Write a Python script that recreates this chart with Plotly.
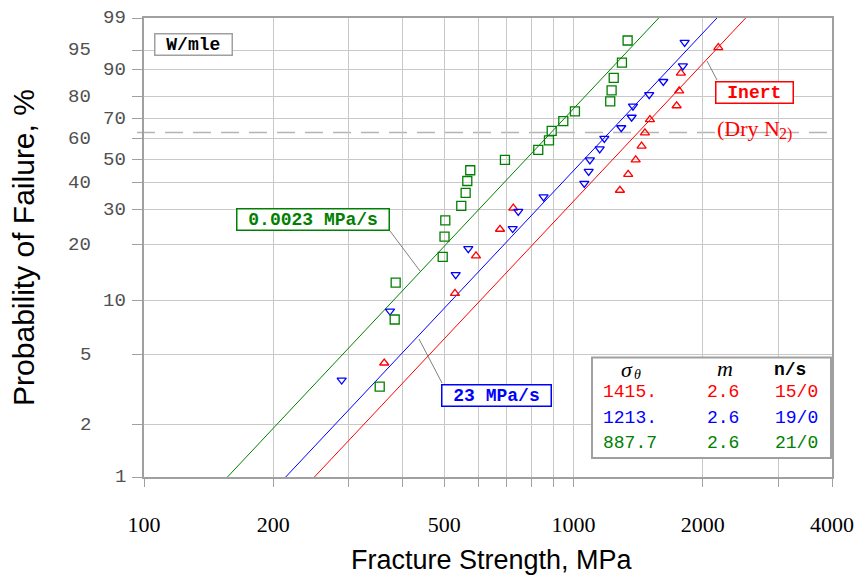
import numpy as np
import plotly.graph_objects as go

# ---------------- data ----------------
red_strength = [362.6, 529.8, 593, 674.5, 724.4, 1283, 1341, 1396, 1441, 1467,
                1507, 1739, 1763, 1779, 2174]
red_prob = [4.5, 11.0, 17.5, 24.0, 30.5, 37.0, 43.5, 50.0, 56.5, 63.0,
            69.5, 76.0, 82.5, 89.0, 95.5]

blue_strength = [288.6, 373.9, 531.8, 569, 722, 744, 852, 1060, 1085, 1092,
                 1151, 1180, 1292, 1366, 1376, 1501, 1619, 1798, 1815]
blue_prob = [3.6, 8.8, 13.9, 19.1, 24.2, 29.4, 34.5, 39.7, 44.8, 50.0,
             55.2, 60.3, 65.5, 70.6, 75.8, 80.9, 86.1, 91.2, 96.4]

green_strength = [353.9, 383.5, 385.5, 496.1, 500.9, 503, 548, 561, 566, 575,
                  692.6, 828, 877, 890, 947, 1008, 1218, 1227, 1241, 1297, 1337]
green_prob = [3.3, 7.9, 12.6, 17.3, 22.0, 26.6, 31.3, 36.0, 40.7, 45.3,
              50.0, 54.7, 59.3, 64.0, 68.7, 73.4, 78.0, 82.7, 87.4, 92.1, 96.7]

series_labels = ["Inert", "23 MPa/s", "0.0023 MPa/s"]
sigma_theta = [1415.0, 1213.0, 887.7]
m_fit = [2.65, 2.65, 2.65]
m_label = ["2.6", "2.6", "2.6"]
n_fail = [15, 19, 21]
n_susp = [0, 0, 0]

y_ticks = [1, 2, 5, 10, 20, 30, 40, 50, 60, 70, 80, 90, 95, 99]
y_ticks_offset = [2, 5, 20, 40, 60, 80, 95]
x_major = [100, 200, 500, 1000, 2000, 4000]
x_minor = [300, 400, 600, 700, 800, 900, 3000]
p_range = [1, 99]

colors = ["#ff0000", "#0000ff", "#008000"]
symbols = ["triangle-up-open", "triangle-down-open", "square-open"]
msizes = [8, 8, 9]


def wy(p):
    """Weibull probability scale."""
    p = np.asarray(p, dtype=float) / 100.0
    return np.log(-np.log(1.0 - p))


# plot area in pixels (for placing decorations)
L, R, T, B = 144, 832, 18, 477


def px(xp):
    return (xp - L) / (R - L)


def py(yp):
    return (B - yp) / (B - T)


fig = go.Figure()

# fitted Weibull lines
for st, m, c in zip(sigma_theta, m_fit, colors):
    yl = wy(p_range)
    xl = st * np.exp(yl / m)
    fig.add_trace(go.Scatter(x=xl, y=yl, mode="lines",
                             line=dict(color=c, width=1), hoverinfo="skip"))

# data points
for xs, ps, c, s, ms, name in zip([red_strength, blue_strength, green_strength],
                                  [red_prob, blue_prob, green_prob],
                                  colors, symbols, msizes, series_labels):
    fig.add_trace(go.Scatter(x=xs, y=wy(ps), mode="markers", name=name,
                             marker=dict(symbol=s, size=ms, color=c,
                                         line=dict(color=c, width=1.3))))

grid = "#c8c8c8"
frame = "#a0a0a0"

fig.update_layout(
    width=859, height=575,
    margin=dict(l=L, r=859 - R, t=T, b=575 - B),
    plot_bgcolor="white", paper_bgcolor="white",
    showlegend=False,
)

fig.update_xaxes(
    type="log", range=[2, np.log10(4000)],
    tickvals=x_major, ticktext=[str(v) for v in x_major],
    ticks="outside", ticklen=8, tickcolor=frame, tickwidth=1,
    showgrid=True, gridcolor=grid, gridwidth=1,
    minor=dict(tickvals=x_minor, ticks="outside", ticklen=8, tickcolor=frame,
               tickwidth=1, showgrid=True, gridcolor=grid, gridwidth=1),
    showline=True, mirror=True, linecolor=frame, linewidth=2,
    zeroline=False, automargin=False,
    tickfont=dict(family="Liberation Serif", size=22, color="black"),
    ticklabelstandoff=19,
)

fig.update_yaxes(
    range=[float(wy(1)), float(wy(99))],
    tickvals=wy(y_ticks), showticklabels=False,
    ticks="outside", ticklen=10, tickcolor=frame, tickwidth=1,
    showgrid=True, gridcolor=grid, gridwidth=1,
    showline=True, mirror=True, linecolor=frame, linewidth=2,
    zeroline=False, automargin=False,
    title=dict(text="Probability of Failure, %",
               font=dict(family="Liberation Sans, Arial", size=30, color="black"),
               standoff=89),
)

shapes = []
annotations = []

# x-axis title
annotations.append(dict(text="Fracture Strength, MPa", xref="paper", yref="paper",
                        x=px(492), y=py(560), xanchor="center", yanchor="middle",
                        showarrow=False,
                        font=dict(family="Liberation Sans, Arial", size=27, color="black")))

# y tick labels (staggered)
for v in y_ticks:
    xr = 93 if v in y_ticks_offset else 128
    annotations.append(dict(text=str(v), xref="paper", yref="y",
                            x=px(xr), y=float(wy(v)), xanchor="right", yanchor="middle",
                            showarrow=False,
                            font=dict(family="Liberation Mono", size=19, color="#505050")))

# characteristic-life dashed line (63.2 %)
shapes.append(dict(type="line", xref="paper", yref="y", x0=px(137), x1=1.0, y0=0, y1=0,
                   line=dict(color="#b4b4b4", width=1.5, dash="18px,10px"), layer="below"))

# connector lines
for (x0, y0, x1, y1) in [(390, 231, 420, 271), (419, 339, 442, 383), (707, 61, 717, 80)]:
    shapes.append(dict(type="line", xref="paper", yref="paper",
                       x0=px(x0), y0=py(y0), x1=px(x1), y1=py(y1),
                       line=dict(color="#808080", width=1)))

# boxed labels
NB = "\u00a0"
boxes = [("W/mle", 193.4, 44.2, "black", frame),
         (series_labels[2], 312.5, 219.5, colors[2], colors[2]),
         (series_labels[1], 496.5, 395.5, colors[1], colors[1]),
         (series_labels[0], 754, 93, colors[0], colors[0])]
for txt, cx, cy, tc, bc in boxes:
    annotations.append(dict(text="<b>%s%s%s</b>" % (NB, txt, NB), xref="paper", yref="paper",
                            x=px(cx), y=py(cy), xanchor="center", yanchor="middle",
                            showarrow=False, borderpad=0,
                            bgcolor="white", bordercolor=bc, borderwidth=1.5,
                            font=dict(family="Liberation Mono", size=18, color=tc)))

# "(Dry N2)" with subscript drawn as two texts
annotations.append(dict(text="(Dry N", xref="paper", yref="paper",
                        x=px(715), y=py(128), xanchor="left", yanchor="middle",
                        showarrow=False,
                        font=dict(family="Liberation Serif", size=22, color=colors[0])))
annotations.append(dict(text="2)", xref="paper", yref="paper",
                        x=px(777), y=py(134), xanchor="left", yanchor="middle",
                        showarrow=False,
                        font=dict(family="Liberation Serif", size=16, color=colors[0])))

# parameter table
shapes.append(dict(type="rect", xref="paper", yref="paper",
                   x0=px(592), y0=py(357.5), x1=px(831), y1=py(458),
                   fillcolor="white", line=dict(color=frame, width=2), layer="above"))
annotations.append(dict(text="<i>σ</i>", xref="paper", yref="paper",
                        x=px(627), y=py(369), xanchor="center", yanchor="middle", showarrow=False,
                        font=dict(family="Liberation Serif", size=22, color="black")))
annotations.append(dict(text="<i>θ</i>", xref="paper", yref="paper",
                        x=px(637), y=py(374), xanchor="center", yanchor="middle", showarrow=False,
                        font=dict(family="Liberation Serif", size=14, color="black")))
annotations.append(dict(text="<i>m</i>", xref="paper", yref="paper",
                        x=px(725), y=py(368), xanchor="center", yanchor="middle", showarrow=False,
                        font=dict(family="Liberation Serif", size=22, color="black")))
annotations.append(dict(text="<b>n/s</b>", xref="paper", yref="paper",
                        x=px(790), y=py(370), xanchor="center", yanchor="middle", showarrow=False,
                        font=dict(family="Liberation Mono", size=18, color="black")))
row_y = [392, 418, 443]
for st, ml, nf, ns, c, ry in zip(sigma_theta, m_label, n_fail, n_susp, colors, row_y):
    for txt, xl in [(("%.1f" % st)[:5], 601), (ml, 705), ("%d/%d" % (nf, ns), 773)]:
        annotations.append(dict(text=txt, xref="paper", yref="paper",
                                x=px(xl), y=py(ry), xanchor="left", yanchor="middle",
                                showarrow=False,
                                font=dict(family="Liberation Mono", size=18, color=c)))

fig.update_layout(shapes=shapes, annotations=annotations)

fig.write_html("out.html")
